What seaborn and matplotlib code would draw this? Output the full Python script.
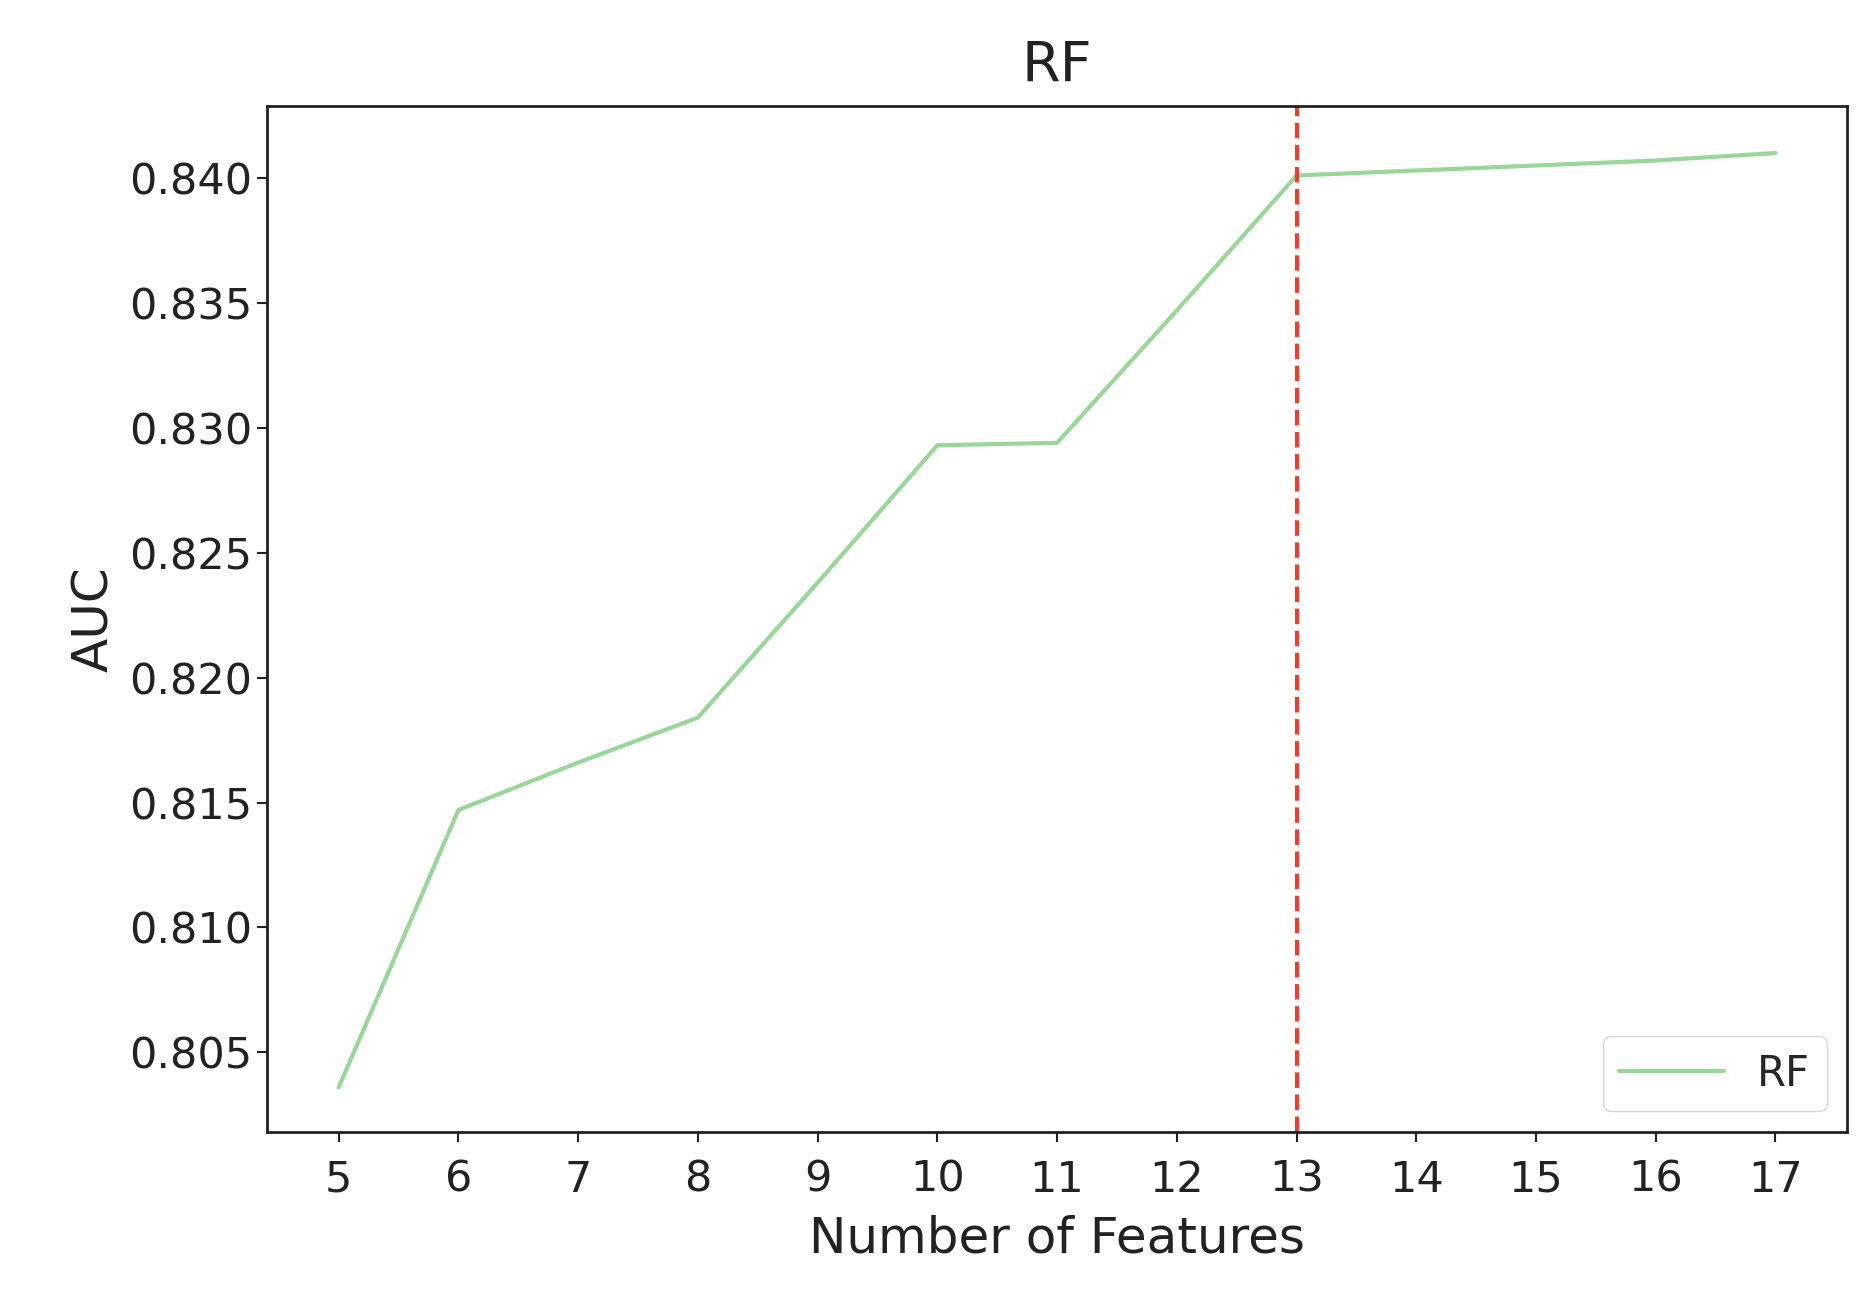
import matplotlib
matplotlib.use("Agg")
import matplotlib.pyplot as plt
import seaborn as sns
import pandas as pd

features = [5, 6, 7, 8, 9, 10, 11, 12, 13, 14, 15, 16, 17]
auc = [0.8036, 0.8147, 0.8166, 0.8184, 0.8238, 0.8293, 0.8294, 0.8347, 0.8401, 0.8403, 0.8405, 0.8407, 0.8410]
best_n = 13

sns.set_style("ticks")
plt.rcParams['font.family'] = ['DejaVu Sans']
df = pd.DataFrame({"n": features, "auc": auc})
fig = plt.figure(figsize=(18.66, 13.03), dpi=100)
ax = fig.add_axes([0.143, 0.131, 0.847, 0.788])
sns.lineplot(data=df, x="n", y="auc", ax=ax, color="#8fd18f", alpha=0.9, lw=3, label="RF")
ax.axvline(best_n, color="#e8402f", ls="--", lw=3)
ax.set_xlim(4.4, 17.6)
ax.set_ylim(0.8018, 0.8429)
ax.set_xticks(features)
ax.set_yticks([0.805, 0.810, 0.815, 0.820, 0.825, 0.830, 0.835, 0.840])
ax.set_yticklabels([f"{v:.3f}" for v in ax.get_yticks()])
ax.tick_params(labelsize=31, width=1.5, length=7, colors="#222222")
ax.tick_params(axis="x", pad=12)
for s in ax.spines.values():
    s.set_linewidth(2); s.set_color("#222222")
ax.set_xlabel("Number of Features", fontsize=36, color="#222222", labelpad=10)
ax.set_ylabel("AUC", fontsize=36, color="#222222", labelpad=8)
ax.set_title("RF", fontsize=40, color="#222222", pad=18)
ax.legend(loc="lower right", fontsize=30, handlelength=2.5)
fig.savefig("out.png", dpi=100)
